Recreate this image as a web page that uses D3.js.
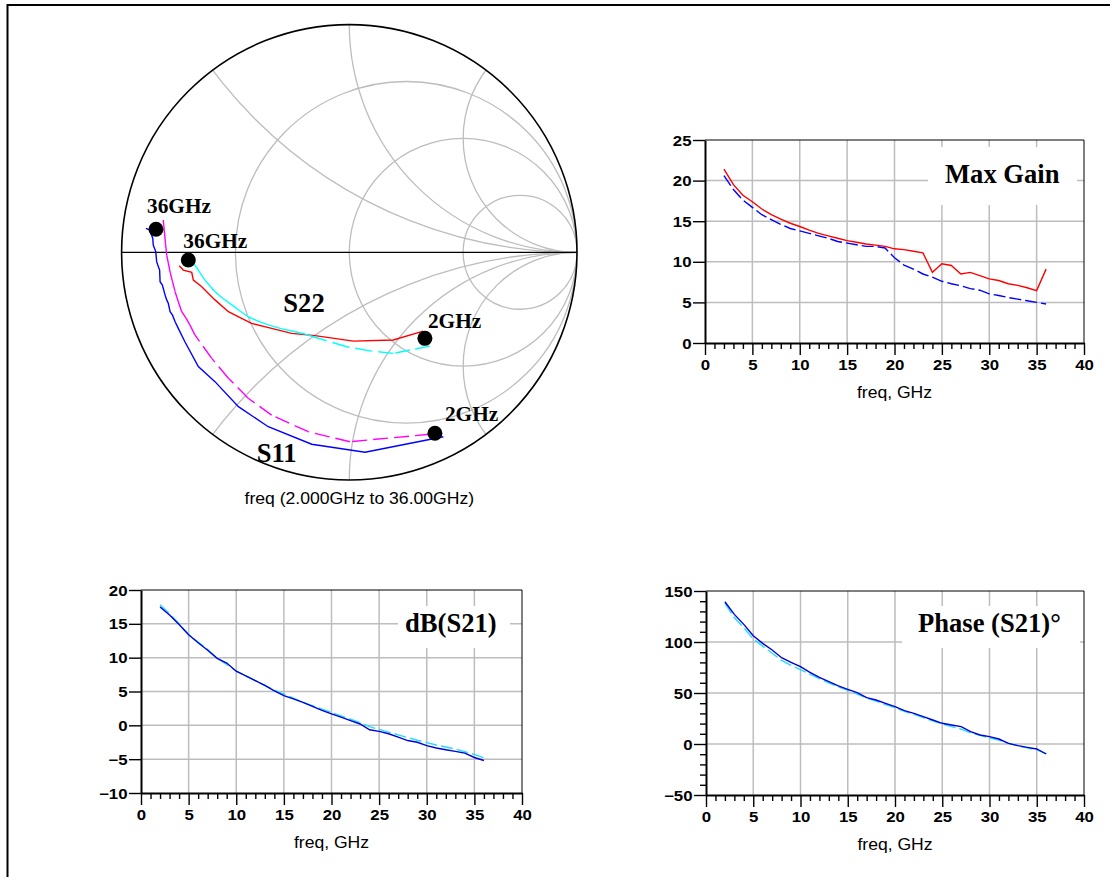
<!DOCTYPE html>
<html><head><meta charset="utf-8">
<script src="https://cdn.jsdelivr.net/npm/d3@7"></script>
<style>body{margin:0;background:#fff}svg{display:block}</style>
</head><body>
<svg id="chart" width="1110" height="877"></svg>
<script>
// ---------------- DATA ----------------
const freqGHz = [2,3,4,5,6,7,8,9,10,11,12,13,14,15,16,17,18,19,20,21,22,23,24,25,26,27,28,29,30,31,32,33,34,35,36];
const maxGainMeas = [21.4,19.5,18.2,17.4,16.5,15.8,15.25,14.75,14.35,13.9,13.5,13.2,12.9,12.6,12.4,12.2,12.05,11.9,11.6,11.5,11.3,11.1,8.7,9.75,9.55,8.5,8.7,8.3,7.9,7.7,7.3,7.1,6.8,6.45,9.1];
const maxGainSim  = [20.6,18.9,17.6,16.7,15.8,15.2,14.6,14.1,13.8,13.5,13.2,12.9,12.5,12.3,12.1,11.9,11.9,11.7,10.5,9.6,9.1,8.5,8.1,7.6,7.3,7.05,6.7,6.5,6.05,5.85,5.6,5.4,5.2,5.0,4.8];
const dbS21Meas = [17.5,16.3,14.9,13.4,12.2,11.1,9.9,9.2,8.0,7.3,6.6,5.9,5.1,4.4,3.9,3.4,2.8,2.2,1.7,1.2,0.7,0.2,-0.65,-0.9,-1.25,-1.75,-2.25,-2.5,-3.0,-3.35,-3.6,-3.85,-4.1,-4.75,-5.2];
const dbS21Sim  = [17.8,16.5,15.0,13.4,12.3,11.2,9.9,9.0,8.0,7.3,6.6,5.9,5.2,4.6,4.0,3.4,2.9,2.4,1.9,1.4,0.9,0.4,-0.2,-0.6,-1.0,-1.4,-1.8,-2.2,-2.55,-2.9,-3.2,-3.5,-3.9,-4.3,-4.8];
const phaseS21Meas = [139.5,127.1,117.3,106.2,98.7,92.2,84.6,80.1,75.8,70.3,65.4,61.1,56.9,53.6,50.3,45.4,43.1,39.9,36.6,32.7,30.1,26.8,23.5,20.3,18.6,17.0,12.1,8.8,7.2,4.9,0.65,-1.6,-3.3,-4.9,-9.8];
const phaseS21Sim  = [138,124,114,103,96,89,82,77,73,68.5,64,60,56,52.5,49,45,42,38.7,35.5,32,29,25.8,22.6,19.5,17.2,14.5,11,8.5,6,3.8,0.8,-1.8,-3.8,-5.8,-9.5];

// Smith chart traces: reflection coefficient [re, im], from 2 GHz to 36 GHz
const s11Meas = [[0.413,-0.810],[0.069,-0.878],[-0.165,-0.843],[-0.356,-0.766],[-0.487,-0.678],[-0.590,-0.568],[-0.663,-0.502],[-0.722,-0.393],[-0.751,-0.334],[-0.765,-0.305],[-0.777,-0.275],[-0.787,-0.261],[-0.795,-0.224],[-0.802,-0.209],[-0.809,-0.188],[-0.821,-0.144],[-0.831,-0.129],[-0.833,-0.078],[-0.841,-0.056],[-0.846,-0.041],[-0.850,0.003],[-0.861,0.032],[-0.863,0.061],[-0.871,0.083],[-0.875,0.098],[-0.893,0.105]];
const s11Sim = [[0.354,-0.799],[0.003,-0.832],[-0.180,-0.788],[-0.341,-0.715],[-0.444,-0.641],[-0.531,-0.553],[-0.604,-0.466],[-0.678,-0.363],[-0.700,-0.319],[-0.717,-0.289],[-0.736,-0.261],[-0.752,-0.214],[-0.765,-0.173],[-0.776,-0.130],[-0.787,-0.087],[-0.794,-0.051],[-0.802,-0.012],[-0.807,0.036],[-0.812,0.089],[-0.817,0.142]];
const s22Meas = [[0.325,-0.346],[0.193,-0.385],[0.018,-0.390],[-0.151,-0.366],[-0.253,-0.356],[-0.341,-0.334],[-0.429,-0.312],[-0.473,-0.290],[-0.531,-0.261],[-0.590,-0.209],[-0.648,-0.151],[-0.685,-0.122],[-0.692,-0.088],[-0.729,-0.078],[-0.747,-0.059]];
const s22Sim = [[0.354,-0.412],[0.267,-0.429],[0.193,-0.444],[0.091,-0.433],[-0.011,-0.415],[-0.158,-0.371],[-0.195,-0.359],[-0.238,-0.349],[-0.300,-0.335],[-0.356,-0.319],[-0.401,-0.302],[-0.444,-0.283],[-0.480,-0.258],[-0.516,-0.231],[-0.555,-0.203],[-0.590,-0.173],[-0.612,-0.148],[-0.634,-0.122],[-0.656,-0.089],[-0.678,-0.056],[-0.707,-0.034]];
const smithMarkers = [
  {g:[-0.849,0.101], text:"36GHz", dx:-9, dy:-16},
  {g:[-0.707,-0.034], text:"36GHz", dx:-5, dy:-12},
  {g:[0.332,-0.378], text:"2GHz", dx:3, dy:-10},
  {g:[0.376,-0.795], text:"2GHz", dx:10, dy:-12}
];
const smithResistance = [1/3, 1, 3];
const smithReactance = [0.5, 1, 2, -0.5, -1, -2];

const xTicks = [0,5,10,15,20,25,30,35,40];
const xMinorTicks = [1,2,3,4,6,7,8,9,11,12,13,14,16,17,18,19,21,22,23,24,26,27,28,29,31,32,33,34,36,37,38,39];
const maxGainTicks = [0,5,10,15,20,25];
const dbTicks = [-10,-5,0,5,10,15,20];
const phaseTicks = [-50,0,50,100,150];
const phaseMinorTicks = [-40,-30,-20,-10,10,20,30,40,60,70,80,90,110,120,130,140];

// ---------------- DRAWING ----------------
const svg = d3.select('#chart');
svg.append('rect').attr('width',1110).attr('height',877).attr('fill','#fff');
svg.append('rect').attr('x',7.5).attr('y',5).attr('width',1200).attr('height',1000)
  .attr('fill','none').attr('stroke','#000').attr('stroke-width',2);

const SANS = "'Liberation Sans', Arial, sans-serif";
const SERIF = "'Liberation Serif', 'Times New Roman', serif";
const GRID = '#bdbdbd';

function label(g, x, y, txt, o) {
  return g.append('text')
    .attr('transform', `translate(${x},${y}) scale(${o.sx||1},1)`)
    .attr('font-family', o.family).attr('font-size', o.size)
    .attr('font-weight', o.weight||'normal')
    .attr('text-anchor', o.anchor||'start')
    .attr('fill', '#000').text(txt);
}

function drawSegDashed(g, pts, color, dash, w) {
  g.selectAll(null).data(d3.pairs(pts)).join('line')
    .attr('x1', d=>d[0][0]).attr('y1', d=>d[0][1])
    .attr('x2', d=>d[1][0]).attr('y2', d=>d[1][1])
    .attr('stroke', color).attr('stroke-width', w)
    .attr('stroke-dasharray', dash);
}

// ----- Smith chart -----
(function smith(){
  const cx = 349.3, cy = 252.3, R = 227.7;
  const sx = d3.scaleLinear().domain([-1,1]).range([cx-R, cx+R]);
  const sy = d3.scaleLinear().domain([-1,1]).range([cy+R, cy-R]);
  const g = svg.append('g');
  const defs = svg.append('defs');
  defs.append('clipPath').attr('id','unit').append('circle').attr('cx',cx).attr('cy',cy).attr('r',R);
  const grid = g.append('g').attr('clip-path','url(#unit)').attr('fill','none')
    .attr('stroke',GRID).attr('stroke-width',1.3);
  smithResistance.forEach(r => {
    grid.append('circle').attr('cx', sx(r/(1+r))).attr('cy', sy(0))
      .attr('r', sx(1/(1+r)) - sx(0));
  });
  smithReactance.forEach(x => {
    grid.append('circle').attr('cx', sx(1)).attr('cy', sy(1/x))
      .attr('r', sx(1/Math.abs(x)) - sx(0));
  });
  g.append('line').attr('x1',sx(-1)).attr('x2',sx(1)).attr('y1',sy(0)).attr('y2',sy(0))
    .attr('stroke','#000').attr('stroke-width',1.3);
  g.append('circle').attr('cx',cx).attr('cy',cy).attr('r',R)
    .attr('fill','none').attr('stroke','#000').attr('stroke-width',1.6);

  const toPx = d => [sx(d[0]), sy(d[1])];
  const line = d3.line();
  g.append('path').attr('d', line(s11Meas.map(toPx))).attr('fill','none')
    .attr('stroke','#0000ff').attr('stroke-width',1.4);
  drawSegDashed(g.append('g'), s11Sim.map(toPx), '#ff00ff', '15,6', 1.4);
  g.append('path').attr('d', line(s22Meas.map(toPx))).attr('fill','none')
    .attr('stroke','#ff0000').attr('stroke-width',1.4);
  drawSegDashed(g.append('g'), s22Sim.map(toPx), '#00ffff', '15,6', 1.4);

  smithMarkers.forEach(m => {
    const [px, py] = toPx(m.g);
    g.append('circle').attr('cx',px).attr('cy',py).attr('r',7.5).attr('fill','#000');
    label(g, px+m.dx, py+m.dy, m.text, {family:SERIF, size:22, weight:'bold', sx:0.97});
  });
  label(g, cx-66, cy+59.4, 'S22', {family:SERIF, size:28, weight:'bold', sx:0.95});
  label(g, cx-92.6, cy+209.4, 'S11', {family:SERIF, size:28, weight:'bold', sx:0.95});
  label(g, cx+10, cy+252, 'freq (2.000GHz to 36.00GHz)', {family:SANS, size:16, anchor:'middle', sx:1.1});
})();

// ----- Rectangular plots -----
function rectPlot(cfg) {
  const x = d3.scaleLinear().domain([0,40]).range([cfg.x0, cfg.x1]);
  const y = d3.scaleLinear().domain(cfg.yDomain).range([cfg.y1, cfg.y0]);
  const g = svg.append('g');
  // grid
  g.append('g').selectAll('line').data(xTicks.slice(1,-1)).join('line')
    .attr('x1',d=>x(d)).attr('x2',d=>x(d)).attr('y1',cfg.y0).attr('y2',cfg.y1)
    .attr('stroke',GRID).attr('stroke-width',1.5);
  g.append('g').selectAll('line').data(cfg.yTicks.slice(1,-1)).join('line')
    .attr('y1',d=>y(d)).attr('y2',d=>y(d)).attr('x1',cfg.x0).attr('x2',cfg.x1)
    .attr('stroke',GRID).attr('stroke-width',1.5);
  // top/right frame
  g.append('path').attr('d',`M${cfg.x0},${cfg.y0}H${cfg.x1}V${cfg.y1}`)
    .attr('fill','none').attr('stroke','#000').attr('stroke-width',1);
  // label box
  const b = cfg.box;
  g.append('rect').attr('x',b[0]).attr('y',b[1]).attr('width',b[2]-b[0]).attr('height',b[3]-b[1]).attr('fill','#fff');
  label(g, cfg.title[1], cfg.title[2], cfg.title[0], {family:SERIF, size:28, weight:'bold', sx:0.95});
  // series
  const ln = d3.line().x((d,i)=>x(freqGHz[i])).y(d=>y(d));
  cfg.series.forEach(s => {
    g.append('path').attr('d', ln(s.values)).attr('fill','none')
      .attr('stroke', s.color).attr('stroke-width', 1.4)
      .attr('stroke-dasharray', s.dash || null);
  });
  // axes
  const styleAxis = a => {
    a.attr('font-family', SANS).attr('font-size', 14).attr('font-weight','bold');
    a.selectAll('path.domain').attr('stroke','#000').attr('stroke-width',2);
    a.selectAll('.tick line').attr('stroke','#000').attr('stroke-width',1.4);
  };
  const xa = g.append('g').attr('transform',`translate(0,${cfg.y1})`)
    .call(d3.axisBottom(x).tickValues(xTicks).tickSize(12).tickSizeOuter(0).tickFormat(d3.format('d')));
  styleAxis(xa);
  xa.selectAll('.tick text').attr('y',27).attr('dy',null).attr('transform','scale(1.2,1)').attr('fill','#000');
  const xm = g.append('g').attr('transform',`translate(0,${cfg.y1})`)
    .call(d3.axisBottom(x).tickValues(xMinorTicks).tickSize(6).tickSizeOuter(0).tickFormat(''));
  xm.select('path.domain').remove();
  xm.selectAll('.tick line').attr('stroke','#000').attr('stroke-width',1.4);
  const ya = g.append('g').attr('transform',`translate(${cfg.x0},0)`)
    .call(d3.axisLeft(y).tickValues(cfg.yTicks).tickSize(12).tickSizeOuter(0).tickFormat(d3.format('d')));
  styleAxis(ya);
  ya.selectAll('.tick text').attr('x', -13.5/1.2).attr('dy','0.36em').attr('transform','scale(1.2,1)').attr('fill','#000');
  if (cfg.yMinor) {
    const ym = g.append('g').attr('transform',`translate(${cfg.x0},0)`)
      .call(d3.axisLeft(y).tickValues(cfg.yMinor).tickSize(6).tickSizeOuter(0).tickFormat(''));
    ym.select('path.domain').remove();
    ym.selectAll('.tick line').attr('stroke','#000').attr('stroke-width',1.4);
  }
  label(g, (cfg.x0+cfg.x1)/2, cfg.y1+55, 'freq, GHz', {family:SANS, size:16, anchor:'middle', sx:1.1});
}

rectPlot({x0:705, x1:1084, y0:140, y1:343, yDomain:[0,25], yTicks:maxGainTicks,
  box:[928,147,1077,205], title:['Max Gain',945,183],
  series:[{values:maxGainSim,color:'#0000ff',dash:'12,4'},{values:maxGainMeas,color:'#ff0000'}]});
rectPlot({x0:141, x1:522, y0:590, y1:793, yDomain:[-10,20], yTicks:dbTicks,
  box:[398,606,510,648], title:['dB(S21)',405,632],
  series:[{values:dbS21Sim,color:'#22ddff',dash:'12,4'},{values:dbS21Meas,color:'#0000d8'}]});
rectPlot({x0:706, x1:1084, y0:591, y1:795, yDomain:[-50,150], yTicks:phaseTicks, yMinor:phaseMinorTicks,
  box:[902,606,1080,648], title:['Phase (S21)°',918,632],
  series:[{values:phaseS21Sim,color:'#22ddff',dash:'12,4'},{values:phaseS21Meas,color:'#0000d8'}]});
</script>
</body></html>
